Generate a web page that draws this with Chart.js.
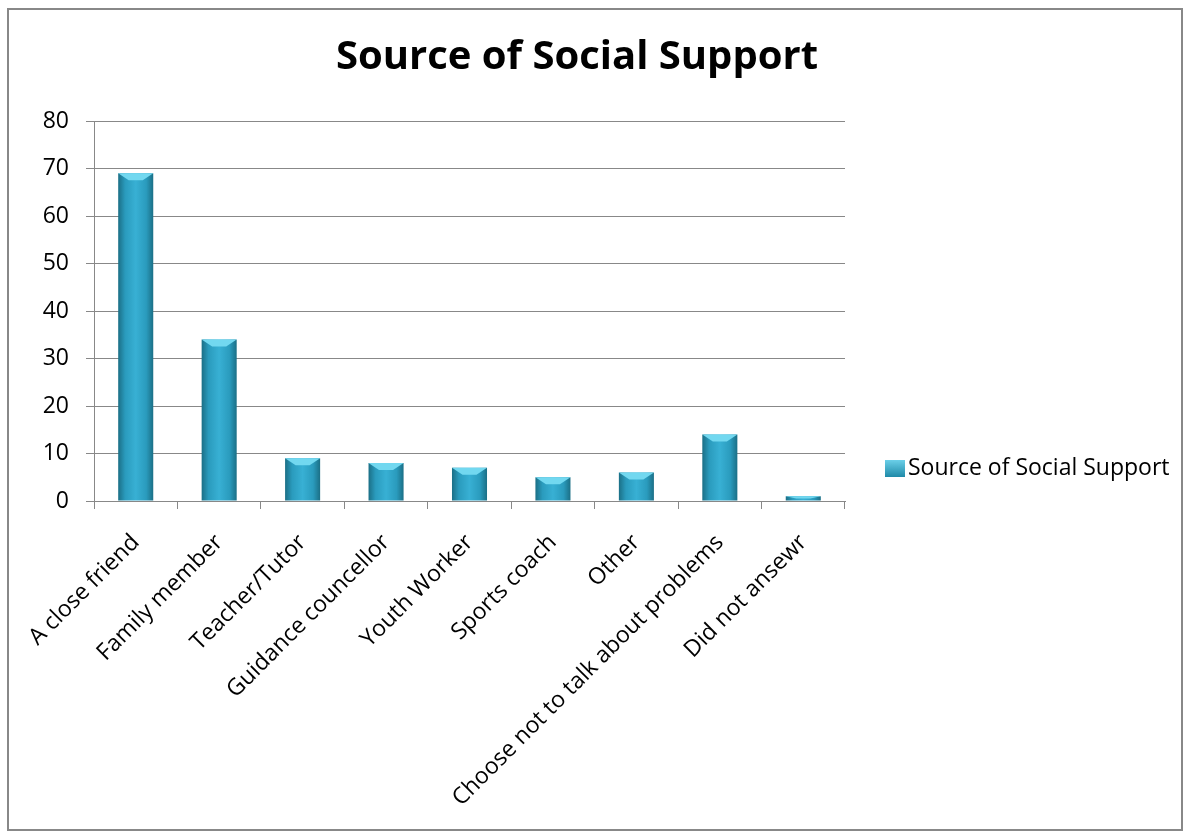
<!DOCTYPE html>
<html>
<head>
<meta charset="utf-8">
<script src="https://cdn.jsdelivr.net/npm/chart.js@4.4.1/dist/chart.umd.min.js"></script>
<style>
  body { margin: 0; background: #fff; }
  #box {
    position: absolute; left: 7px; top: 8px;
    width: 1172px; height: 819px;
    border: 2px solid #888;
  }
</style>
</head>
<body>
<div id="box"><canvas id="supportChart"></canvas></div>
<script>
const categories = [
  'A close friend', 'Family member', 'Teacher/Tutor', 'Guidance councellor',
  'Youth Worker', 'Sports coach', 'Other', 'Choose not to talk about problems', 'Did not ansewr'
];
const supportCounts = [69, 34, 9, 8, 7, 5, 6, 14, 1];
const yTicks = [0, 10, 20, 30, 40, 50, 60, 70, 80];

const FONT = "'Open Sans', sans-serif";
const barFill = '#2fa6c8';

// horizontal shading so the bars look like the old 3D columns
function barGradient(ctx) {
  const chart = ctx.chart;
  const xs = chart.scales && chart.scales.x;
  if (!chart.chartArea || !xs || ctx.dataIndex === undefined) return barFill;
  const cx = xs.getPixelForValue(ctx.dataIndex);
  const half = xs.width / categories.length * 0.42 / 2;
  const g = chart.ctx.createLinearGradient(cx - half, 0, cx + half, 0);
  g.addColorStop(0, '#1b6f86');
  g.addColorStop(0.2, '#2a9bbd');
  g.addColorStop(0.5, '#38b0d4');
  g.addColorStop(0.8, '#2a9bbd');
  g.addColorStop(1, '#1b6f86');
  return g;
}

// light bevel on top of each bar + the legend entry on the right
const extras = {
  id: 'extras',
  afterDatasetsDraw(chart) {
    const c = chart.ctx;
    chart.getDatasetMeta(0).data.forEach(bar => {
      const l = bar.x - bar.width / 2, r = bar.x + bar.width / 2;
      const cap = Math.min(7, (bar.base - bar.y) / 2);
      c.save();
      c.fillStyle = '#72d8f0';
      c.beginPath();
      c.moveTo(l, bar.y);
      c.lineTo(r, bar.y);
      c.lineTo(r - bar.width * 0.3, bar.y + cap);
      c.lineTo(l + bar.width * 0.3, bar.y + cap);
      c.closePath();
      c.fill();
      c.restore();
    });
  },
  afterDraw(chart) {
    const c = chart.ctx;
    const x = chart.chartArea.right + 40;
    const y = chart.chartArea.bottom - 33;
    const g = c.createLinearGradient(0, y - 9, 0, y + 9);
    g.addColorStop(0, '#6fd3ec');
    g.addColorStop(1, '#1f8aa8');
    c.save();
    c.fillStyle = g;
    c.fillRect(x, y - 8, 20, 17);
    c.fillStyle = '#000';
    c.font = '23px ' + FONT;
    c.textBaseline = 'middle';
    c.fillText(chart.data.datasets[0].label, x + 23, y);
    c.restore();
  }
};

new Chart(document.getElementById('supportChart'), {
  type: 'bar',
  data: {
    labels: categories,
    datasets: [{
      label: 'Source of Social Support',
      data: supportCounts,
      backgroundColor: barGradient,
      borderWidth: 0,
      barPercentage: 0.42,
      categoryPercentage: 1
    }]
  },
  plugins: [extras],
  options: {
    responsive: true,
    maintainAspectRatio: false,
    animation: false,
    layout: { padding: { left: 0, right: 36, top: 16, bottom: 0 } },
    plugins: {
      title: {
        display: true,
        text: 'Source of Social Support',
        fullSize: true,
        color: '#000',
        font: { family: FONT, size: 40, weight: 'bold' },
        padding: { top: 8, bottom: 39 }
      },
      legend: { display: false },
      tooltip: { enabled: false }
    },
    scales: {
      x: {
        offset: true,
        afterFit: (s) => { s.paddingLeft = 0; s.paddingRight = 0; s.height = 328; },
        grid: {
          offset: true,
          drawOnChartArea: false,
          color: '#888',
          tickLength: 8
        },
        border: { color: '#888' },
        ticks: {
          color: '#000',
          font: { family: FONT, size: 23 },
          minRotation: 45,
          maxRotation: 45,
          autoSkip: false,
          padding: 20,
          labelOffset: 0
        }
      },
      y: {
        min: 0,
        max: 80,
        afterBuildTicks: (axis) => { axis.ticks = yTicks.map(v => ({ value: v })); },
        afterFit: (s) => { s.width = 85; },
        grid: { color: '#888', tickLength: 8 },
        border: { color: '#888' },
        ticks: {
          color: '#000',
          font: { family: FONT, size: 23 },
          padding: 17
        }
      },
      // empty axis that only keeps room for the legend entry
      legendRoom: {
        position: 'right',
        afterFit: (s) => { s.width = 300; },
        grid: { display: false },
        border: { display: false },
        ticks: { display: false }
      }
    }
  }
});
</script>
</body>
</html>
